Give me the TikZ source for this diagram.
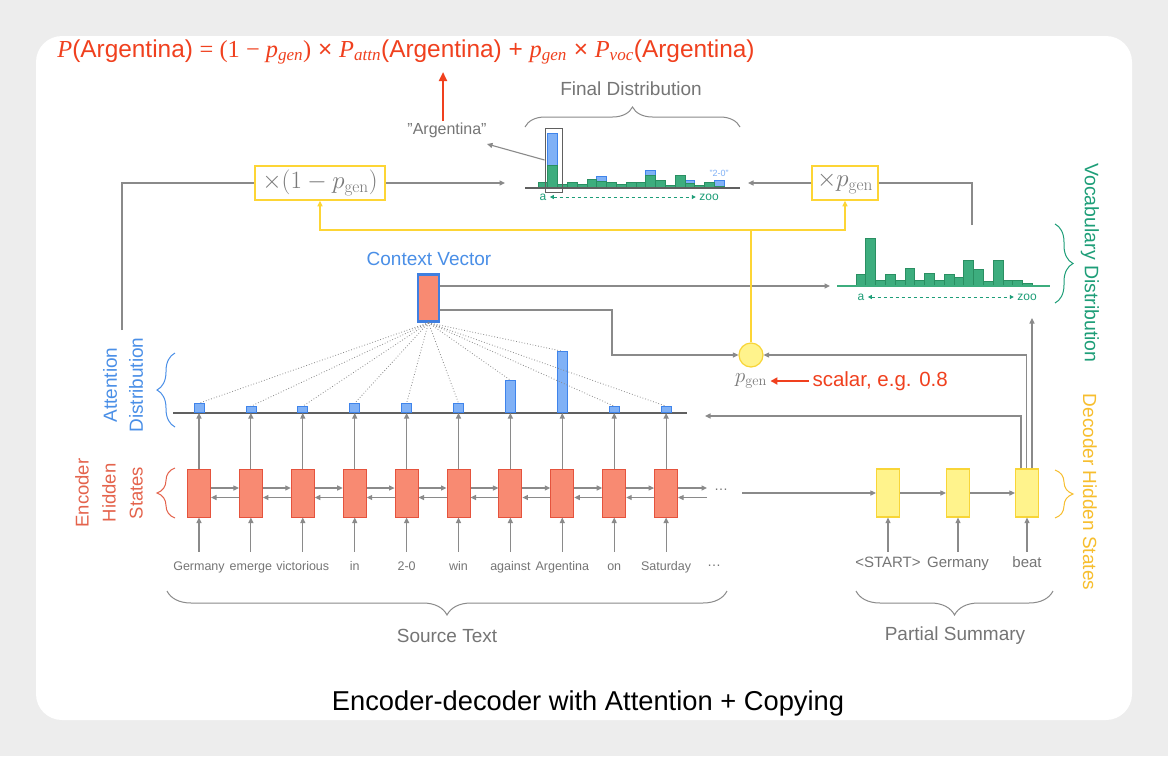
\documentclass[tikz,border=0pt]{standalone}
\usepackage[no-math]{fontspec}
\setmainfont{Liberation Sans}
\newfontfamily\fserif{Liberation Serif}
\usetikzlibrary{arrows.meta,decorations.pathreplacing,calc}
\definecolor{bgg}{HTML}{EDEDED}
\definecolor{lgray}{HTML}{8A8A8A}
\definecolor{dgray}{HTML}{606060}
\definecolor{tgray}{HTML}{757575}
\definecolor{mgray}{HTML}{7A7A7A}
\definecolor{fred}{HTML}{F0401E}
\definecolor{encf}{HTML}{F88A72}
\definecolor{encd}{HTML}{E5533D}
\definecolor{decf}{HTML}{FFF38C}
\definecolor{decd}{HTML}{F8D537}
\definecolor{yline}{HTML}{FDD535}
\definecolor{abf}{HTML}{80B1F6}
\definecolor{abd}{HTML}{3F84EB}
\definecolor{gbf}{HTML}{3DAD7E}
\definecolor{gbd}{HTML}{2A8F62}
\definecolor{gtext}{HTML}{1E9E78}
\definecolor{cvtext}{HTML}{4A8FE7}
\definecolor{encred}{HTML}{E4634C}
\definecolor{dyel}{HTML}{F7BE2E}
\definecolor{cvb}{HTML}{3F7FE0}
\begin{document}
\begin{tikzpicture}[x=1pt,y=-1pt,
  gl/.style={draw=lgray, line width=1.1pt},
  arr/.style={gl, -{Triangle[length=5.5pt,width=5pt]}},
  enc/.style={draw=encd, fill=encf, line width=1pt, minimum width=23pt, minimum height=48pt, inner sep=0pt},
  dec/.style={draw=decd, fill=decf, line width=1.2pt, minimum width=23pt, minimum height=48pt, inner sep=0pt},
  abar/.style={draw=abd, fill=abf, line width=0.8pt, minimum width=10pt, inner sep=0pt, anchor=south},
  gbar/.style={draw=gbd, fill=gbf, line width=0.8pt},
  bbar/.style={draw=abd, fill=abf, line width=0.8pt},
  word/.style={text=tgray, font=\fontsize{12.5}{14}\selectfont, text height=9pt, text depth=3pt, inner xsep=1pt, inner ysep=9pt},
  dword/.style={text=tgray, font=\fontsize{15}{17}\selectfont, text height=11pt, text depth=3.5pt, inner xsep=1pt, inner ysep=4.75pt},
  lbl/.style={text=tgray, font=\fontsize{19}{22}\selectfont},
  mbox/.style={draw=yline, line width=1.5pt, fill=white, text=mgray, font=\fontsize{23}{27}\selectfont, minimum height=34pt, inner sep=0pt},
  yl/.style={draw=yline, line width=1.3pt},
  yarr/.style={yl, -{Triangle[length=5.5pt,width=5pt]}},
  br/.style={decorate, decoration={brace, amplitude=#1}, line width=1pt},
  br/.default=18]
\useasboundingbox (0,0) rectangle (1168,756);
\fill[bgg] (0,0) rectangle (1168,756);
\fill[white, rounded corners=26pt] (36,36) rectangle (1132,720);

% formula
\node[text=fred, font=\fontsize{24.4}{30}\selectfont, inner sep=0pt] (fml) at (406,52)
 {{\fserif\itshape P}(Argentina) {\fserif = (1 − {\itshape p}\textsubscript{\itshape gen})} × {\fserif\itshape P\textsubscript{attn}}(Argentina) + {\fserif\itshape p\textsubscript{gen}} × {\fserif\itshape P\textsubscript{voc}}(Argentina)};

% final distribution
\node[lbl] (fdlabel) at (631,89) {Final Distribution};
\draw[br=20, lgray] (525,127) -- (740,127);
\foreach \k/\h in {1/55,6/11.3,11/17.3,15/8,18/7.7}
  \draw[bbar] ({538+\k*9.8},188) rectangle ++(9.8,-\h);
\foreach \h [count=\k from 0] in {5.7,23,3.3,5.7,3.3,9,6.3,5.7,3.7,5.7,5.7,12.3,8,3,13,4.7,3,5.7,2}
  \draw[gbar] ({538+\k*9.8},188) rectangle ++(9.8,-\h);
\draw[dgray, line width=1.2pt] (525,188) -- (740,188);
\node[draw=dgray, line width=1pt, minimum width=17pt, minimum height=64pt, inner sep=0pt] (hl) at (553.5,160) {};
\node[text=abf, font=\fontsize{9}{10}\selectfont, inner sep=0pt] (twozero) at (719,173) {\char34 2-0\char34};
\node[text=gtext, font=\fontsize{12}{14}\selectfont] (fa) at (543,197) {a};
\node[text=gtext, font=\fontsize{12}{14}\selectfont] (fz) at (709,197) {zoo};
\draw[dashed, gtext, line width=1pt, {Triangle[length=4pt,width=4pt]}-{Triangle[length=4pt,width=4pt]}] (fa.east) -- (fz.west);

% Argentina label and red arrow
\node[text=tgray, font=\fontsize{16}{18}\selectfont] (argl) at (447,130) {\char34 Argentina\char34};
\coordinate (argin) at (487,144);
\draw[arr] (hl.west) -- (argin);
\coordinate (ra1) at (443,121);
\coordinate (ra2) at (443,72);
\draw[fred, line width=2.2pt, -{Triangle[length=9pt,width=8pt]}] (ra1) -- (ra2);

% multiplier boxes
\node[mbox, minimum width=130pt] (m1) at (320,183) {$\times(1-p_{\mathrm{gen}})$};
\node[mbox, minimum width=66pt] (m2) at (845,183) {$\times p_{\mathrm{gen}}$};
\coordinate (attout) at (122,330);
\draw[gl] (attout) |- (m1.west);
\coordinate (fdl) at (505,183);
\draw[arr] (m1.east) -- (fdl);
\coordinate (fdr) at (748,183);
\draw[arr] (m2.west) -- (fdr);
\coordinate (vocup) at (972,225);
\draw[gl] (vocup) |- (m2.east);

% vocabulary distribution
\foreach \h [count=\k from 0] in {11.7,48,5.7,11.7,5.7,18,5.7,12.3,5.7,11.7,9,25.7,16.7,5,25.7,5.7,5.7,2.3}
  \draw[gbar] ({856+\k*9.8},286) rectangle ++(9.8,-\h);
\draw[gbf, line width=1.6pt] (837,286) -- (1050,286);
\node[text=gtext, font=\fontsize{12}{14}\selectfont] (va) at (861,297) {a};
\node[text=gtext, font=\fontsize{12}{14}\selectfont] (vz) at (1027,297) {zoo};
\draw[dashed, gtext, line width=1pt, {Triangle[length=4pt,width=4pt]}-{Triangle[length=4pt,width=4pt]}] (va.east) -- (vz.west);
\draw[br, gtext] (1055,224) -- (1055,303);
\node[rotate=-90, text=gtext, font=\fontsize{19.5}{22}\selectfont] (vlabel) at (1090,263) {Vocabulary Distribution};

% context vector
\node[text=cvtext, font=\fontsize{19}{22}\selectfont] (cvlabel) at (429,259) {Context Vector};
\node[draw=cvb, fill=encf, line width=2.5pt, minimum width=21pt, minimum height=47pt, inner sep=0pt] (ctx) at (428.5,298) {};
\coordinate (vocl) at (830,286);
\draw[arr] ([yshift=12pt]ctx.east) -- (vocl);

% p_gen
\node[circle, fill=decf, draw=decd, line width=1.2pt, minimum size=24pt, inner sep=0pt] (pg) at (751,355) {};
\coordinate (cbend) at (612,310);
\draw[arr] ([yshift=-12pt]ctx.east) -- (cbend) |- (pg.west);
\node[text=mgray, font=\fontsize{21}{24}\selectfont] (pgl) at (751,381) {$p_{\mathrm{gen}}$};
\node[text=fred, font=\fontsize{20.5}{24}\selectfont, anchor=west] (sc) at (809,381) {scalar, e.g. 0.8};
\draw[fred, line width=2pt, -{Triangle[length=7pt,width=7pt]}] (sc.west) -- (pgl.east);
\coordinate (yj) at (751,230);
\draw[yl] (pg.north) -- (yj);
\draw[yarr] (yj) -| (m1.south);
\draw[yarr] (yj) -| (m2.south);

% attention baseline
\draw[dgray, line width=1.1pt] (173,413) -- (687,413);

% encoder
\foreach \i/\w/\h [evaluate=\i as \x using {199+(\i-1)*51.9}] in
 {1/Germany/9, 2/emerge/6, 3/victorious/6, 4/in/9, 5/2-0/9, 6/win/9, 7/against/32, 8/Argentina/61, 9/on/6, 10/Saturday/6}{
  \node[enc] (e\i) at (\x,493) {};
  \node[word] (w\i) at (\x,567) {\w};
  \node[abar, minimum height=\h pt] (a\i) at (\x,413) {};
  \draw[arr] (w\i.north) -- (e\i.south);
  \draw[arr] (e\i.north) -- (a\i.south);
  \draw[lgray, dotted, line width=0.8pt] (ctx.south) -- (a\i.north);
}
\foreach \i [count=\j from 2] in {1,...,9}{
  \draw[arr] ([yshift=5pt]e\i.east) -- ([yshift=5pt]e\j.west);
  \draw[arr] ([yshift=-4.5pt]e\j.west) -- ([yshift=-4.5pt]e\i.east);
}
\coordinate (fe) at (707,488);
\coordinate (be) at (707,497.5);
\draw[arr] ([yshift=5pt]e10.east) -- (fe);
\draw[arr] (be) -- ([yshift=-4.5pt]e10.east);
\node[text=tgray, font=\fontsize{14}{16}\selectfont] (dots1) at (721,490) {…};
\node[text=tgray, font=\fontsize{14}{16}\selectfont] (dots2) at (714,566) {…};

% decoder
\node[dec] (d1) at (888,493) {};
\node[dec] (d2) at (958,493) {};
\node[dec] (d3) at (1027,493) {};
\coordinate (encout) at (742,493);
\draw[arr] (encout) -- (d1.west);
\draw[arr] (d1.east) -- (d2.west);
\draw[arr] (d2.east) -- (d3.west);
\node[dword] (dw1) at (888,564) {<START>};
\node[dword] (dw2) at (958,564) {Germany};
\node[dword] (dw3) at (1027,564) {beat};
\draw[arr] (dw1.north) -- (d1.south);
\draw[arr] (dw2.north) -- (d2.south);
\draw[arr] (dw3.north) -- (d3.south);
\coordinate (attin) at (705,416);
\draw[arr] ([xshift=-6pt]d3.north) |- (attin);
\draw[arr] ([xshift=-0.5pt]d3.north) |- (pg.east);
\coordinate (vocin) at (1032,318);
\draw[arr] ([xshift=5pt]d3.north) -- (vocin);
\draw[br, dyel] (1055,470) -- (1055,518);
\node[rotate=-90, text=dyel, font=\fontsize{19}{22}\selectfont] (dlabel) at (1090,492) {Decoder Hidden States};

% left labels
\draw[br, cvtext] (175,427) -- (175,353);
\node[rotate=90, text=cvtext, align=center, font=\fontsize{19}{26}\selectfont] (alabel) at (123,385) {Attention\\Distribution};
\draw[br, encred] (175,518) -- (175,468);
\node[rotate=90, text=encred, align=center, font=\fontsize{18.5}{27}\selectfont] (elabel) at (109,493) {Encoder\\Hidden\\States};

% bottom braces
\draw[br=24, lgray] (727,591) -- (167,591);
\node[lbl] (srclabel) at (447,636) {Source Text};
\draw[br=24, lgray] (1053,591) -- (856,591);
\node[lbl] (pslabel) at (955,636) {Partial Summary};

% caption
\node[font=\fontsize{27.3}{32}\selectfont] (caption) at (588,703) {Encoder-decoder with Attention + Copying};
\end{tikzpicture}
\end{document}
